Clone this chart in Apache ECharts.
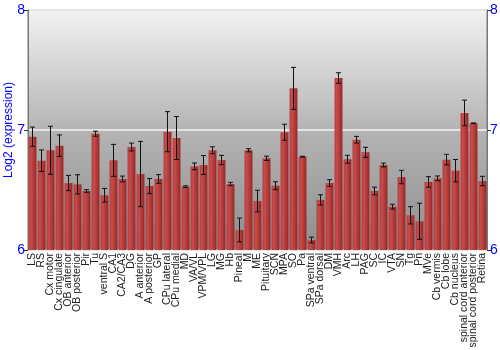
<!DOCTYPE html>
<html><head><meta charset="utf-8">
<script src="https://cdn.jsdelivr.net/npm/echarts@6/dist/echarts.min.js"></script>
<style>html,body{margin:0;padding:0;background:#fff}#c{width:500px;height:350px}</style>
</head><body><div id="c"></div>
<script>
var categories = ["LS","RS","Cx motor","Cx cingulate","OB anterior","OB posterior","Pir","Tu","ventral S","CA1","CA2/CA3","DG","A anterior","A posterior","GP","CPu lateral","CPu medial","MD","VA/VL","VPM/VPL","LG","MG","Hb","Pineal","M","ME","Pituitary","SCN","MPA","SO","Pa","SPa ventral","SPa dorsal","DM","VMH","Arc","LH","PAG","SC","IC","VTA","SN","Tg","Pn","MVe","Cb vermis","Cb lobe","Cb nucleus","spinal cord anterior","spinal cord posterior","Retina"];
var values = [6.944,6.744,6.831,6.869,6.558,6.547,6.492,6.969,6.456,6.747,6.592,6.858,6.633,6.533,6.592,6.986,6.933,6.528,6.697,6.708,6.831,6.750,6.550,6.167,6.831,6.408,6.764,6.536,6.981,7.347,6.778,6.083,6.417,6.558,7.433,6.756,6.919,6.814,6.492,6.708,6.361,6.608,6.289,6.239,6.567,6.597,6.753,6.661,7.142,7.056,6.575];
var errors = [0.080,0.090,0.200,0.090,0.064,0.080,0.011,0.021,0.057,0.133,0.024,0.033,0.272,0.063,0.036,0.167,0.179,0.007,0.028,0.079,0.029,0.039,0.014,0.099,0.013,0.090,0.018,0.033,0.067,0.175,0.003,0.024,0.043,0.028,0.044,0.033,0.028,0.042,0.032,0.016,0.020,0.056,0.072,0.151,0.044,0.020,0.044,0.093,0.107,0.003,0.039];
var yTicks = [6,7,8];

var errData = values.map(function(v,i){return [i, v-errors[i], v+errors[i]];});
var chart = echarts.init(document.getElementById('c'));
var axisLbl = {color:'#0000ff', fontSize:14, fontFamily:'Liberation Sans, Arial, sans-serif'};
chart.setOption({
  animation:false,
  grid:{left:28,right:13,top:10,bottom:100,containLabel:false,outerBoundsMode:'none',show:true,borderColor:'#777',borderWidth:1,
    backgroundColor:{type:'linear',x:0,y:0,x2:0,y2:1,colorStops:[{offset:0,color:'#f2f2f2'},{offset:0.5,color:'#b4b4b4'},{offset:1,color:'#8e8e8e'}]}},
  xAxis:{type:'category',data:categories,
    axisLine:{show:false},axisTick:{show:false},
    axisLabel:{rotate:90,interval:0,fontSize:10.5,color:'#222',margin:3,fontFamily:'Liberation Sans, Arial, sans-serif'}},
  yAxis:[
    {type:'value',min:6,max:8,interval:1,name:'Log2 (expression)',nameLocation:'middle',nameGap:13,nameMoveOverlap:false,
     nameTextStyle:{color:'#0000ff',fontSize:12,fontFamily:'Liberation Sans, Arial, sans-serif'},
     axisLine:{show:true,lineStyle:{color:'#777'}},axisTick:{show:true,length:4,lineStyle:{color:'#333'}},
     axisLabel:Object.assign({margin:3,formatter:function(v){return yTicks.indexOf(v)>=0?String(v):'';}},axisLbl),
     splitLine:{show:true,lineStyle:{color:'#f4f4f4',width:1.5}}},
    {type:'value',min:6,max:8,interval:1,position:'right',
     axisLine:{show:true,lineStyle:{color:'#777'}},axisTick:{show:true,length:4,lineStyle:{color:'#333'}},
     axisLabel:Object.assign({margin:3},axisLbl),splitLine:{show:false}}
  ],
  series:[
    {type:'bar',data:values,barCategoryGap:'12%',
     itemStyle:{color:{type:'linear',x:0,y:0,x2:1,y2:0,colorStops:[{offset:0,color:'#b43c3c'},{offset:0.3,color:'#c84c4c'},{offset:1,color:'#982626'}]}}},
    {type:'custom',data:errData,z:5,
     renderItem:function(params,api){
       var x=api.value(0),lo=api.coord([x,api.value(1)]),hi=api.coord([x,api.value(2)]);
       var cap=2.5;
       return {type:'group',children:[
         {type:'line',shape:{x1:lo[0],y1:lo[1],x2:hi[0],y2:hi[1]},style:{stroke:'#111',lineWidth:1}},
         {type:'line',shape:{x1:lo[0]-cap,y1:lo[1],x2:lo[0]+cap,y2:lo[1]},style:{stroke:'#111',lineWidth:1}},
         {type:'line',shape:{x1:hi[0]-cap,y1:hi[1],x2:hi[0]+cap,y2:hi[1]},style:{stroke:'#111',lineWidth:1}}
       ]};
     }}
  ]
});
</script></body></html>
